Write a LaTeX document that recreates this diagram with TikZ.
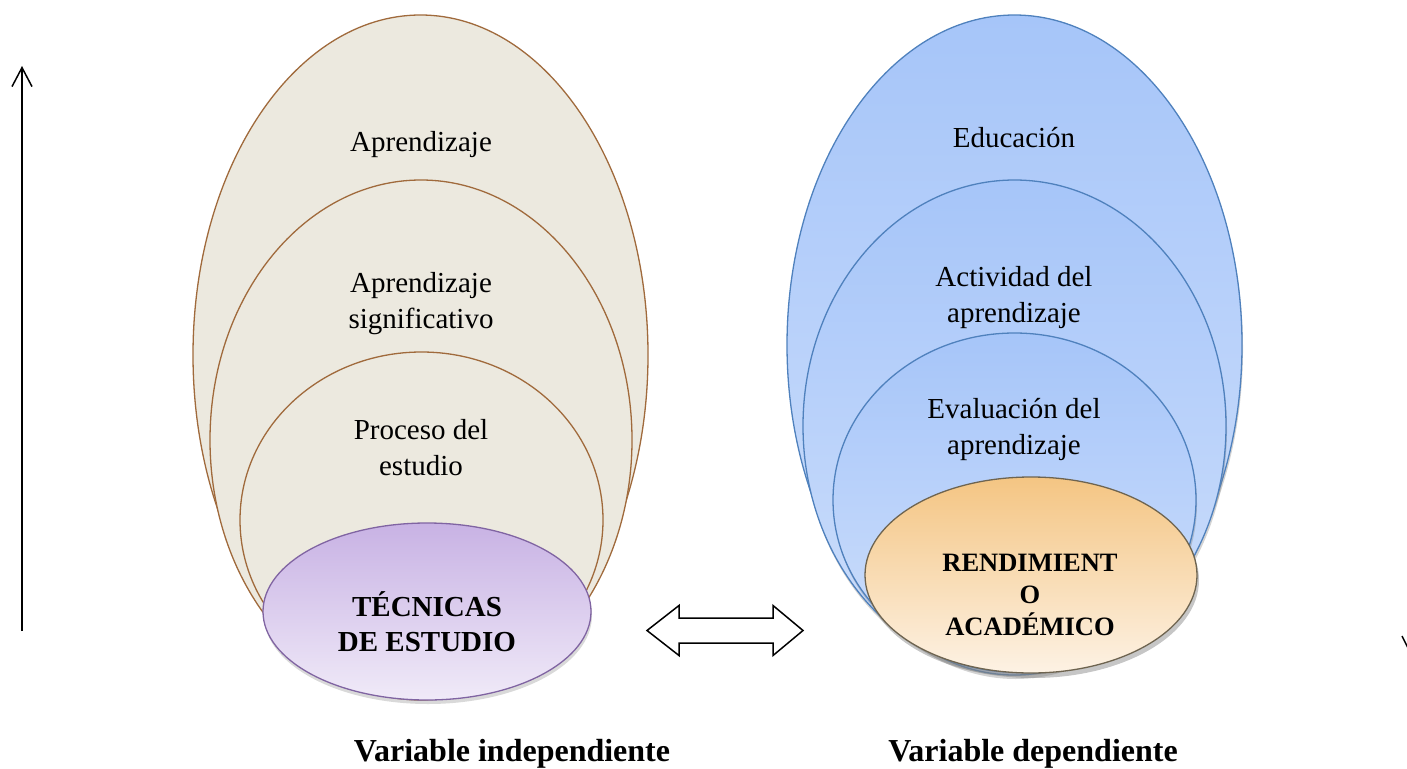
\documentclass[tikz,border=0pt]{standalone}
\usepackage{fontspec}
\setmainfont{Liberation Serif}
\usetikzlibrary{shapes.geometric,shadows,arrows.meta}
\definecolor{brownline}{HTML}{A06A3C}
\definecolor{beige}{HTML}{ECE9DF}
\definecolor{blueline}{HTML}{4F81BD}
\definecolor{bluetop}{HTML}{A6C5F9}
\definecolor{bluebot}{HTML}{CEDFFB}
\definecolor{purpline}{HTML}{8064A2}
\definecolor{purptop}{HTML}{C8B2E4}
\definecolor{purpbot}{HTML}{F0EAF8}
\definecolor{orline}{HTML}{6E6450}
\definecolor{ortop}{HTML}{F4C583}
\definecolor{orbot}{HTML}{FDF2E4}
\begin{document}
\begin{tikzpicture}[x=1pt,y=-1pt,
  lell/.style={ellipse, draw=brownline, line width=1.3pt, fill=beige, inner sep=0pt},
  bell/.style={ellipse, draw=blueline, line width=1.3pt, top color=bluetop, bottom color=bluebot, inner sep=0pt,
     drop shadow={shadow xshift=1pt, shadow yshift=-4pt, opacity=0.35}},
  lbl/.style={font=\fontsize{29}{36}\selectfont, align=center, inner sep=0pt},
  blbl/.style={font=\fontsize{29}{35}\selectfont\bfseries, align=center, inner sep=0pt},
  rlbl/.style={font=\fontsize{26.5}{32}\selectfont\bfseries, align=center, inner sep=0pt},
  vlbl/.style={font=\fontsize{32}{36}\selectfont\bfseries, inner sep=0pt}]
\useasboundingbox (0,0) rectangle (1407,768);

% left ellipses
\node[lell, minimum width=455pt, minimum height=680pt] (l1) at (420.5,355) {};
\node[lell, minimum width=422pt, minimum height=520pt] (l2) at (421,440) {};
\node[lell, minimum width=363pt, minimum height=336pt] (l3) at (421.5,520) {};
\node[ellipse, draw=purpline, line width=1.3pt, top color=purptop, bottom color=purpbot, inner sep=0pt,
  minimum width=328pt, minimum height=177pt,
  drop shadow={shadow xshift=1pt, shadow yshift=-4pt, opacity=0.3}] (l4) at (427,611.5) {};

% right ellipses
\node[bell, minimum width=455pt, minimum height=660pt] (r1) at (1014.5,345) {};
\node[bell, minimum width=423pt, minimum height=492pt] (r2) at (1014.5,426) {};
\node[bell, minimum width=363pt, minimum height=334pt] (r3) at (1014.5,500) {};
\node[ellipse, draw=orline, line width=1.3pt, top color=ortop, bottom color=orbot, inner sep=0pt,
  minimum width=332pt, minimum height=196pt,
  drop shadow={shadow xshift=2pt, shadow yshift=-5pt, opacity=0.45}] (r4) at (1031,575) {};

% texts left
\node[lbl] (t1) at (421,145) {Aprendizaje};
\node[lbl] (t2) at (421,304) {Aprendizaje\\significativo};
\node[lbl] (t3) at (421,448) {Proceso del\\estudio};
\node[blbl] (t4) at (427,621.5) {TÉCNICAS\\DE ESTUDIO};

% texts right
\node[lbl] (u1) at (1014,138) {Educación};
\node[lbl] (u2) at (1014,298) {Actividad del\\aprendizaje};
\node[lbl] (u3) at (1014,429) {Evaluación del\\aprendizaje};
\node[rlbl] (u4) at (1030,595) {RENDIMIENT\\O\\ACADÉMICO};

% bottom labels
\node[vlbl] (v1) at (512,754) {Variable independiente};
\node[vlbl] (v2) at (1033,754) {Variable dependiente};

% double arrow
\coordinate (da) at (647,630.5);
\draw[line width=1.5pt, fill=white, line join=miter]
  (da) -- ++(32,-25) -- ++(0,12.5) -- ++(94,0) -- ++(0,-12.5) -- ++(30,25)
  -- ++(-30,25) -- ++(0,-12.5) -- ++(-94,0) -- ++(0,12.5) -- cycle;

% vertical arrow
\coordinate (vb) at (22,631);
\coordinate (vt) at (22,66);
\draw[line width=1.5pt, -{Straight Barb[length=19pt,width=20pt,line width=1.5pt]}] (vb) -- (vt);

% stray fragment at right edge
\coordinate (f1) at (1402,636);
\coordinate (f2) at (1408,648);
\draw[line width=1.5pt] (f1) -- (f2);
\end{tikzpicture}
\end{document}
